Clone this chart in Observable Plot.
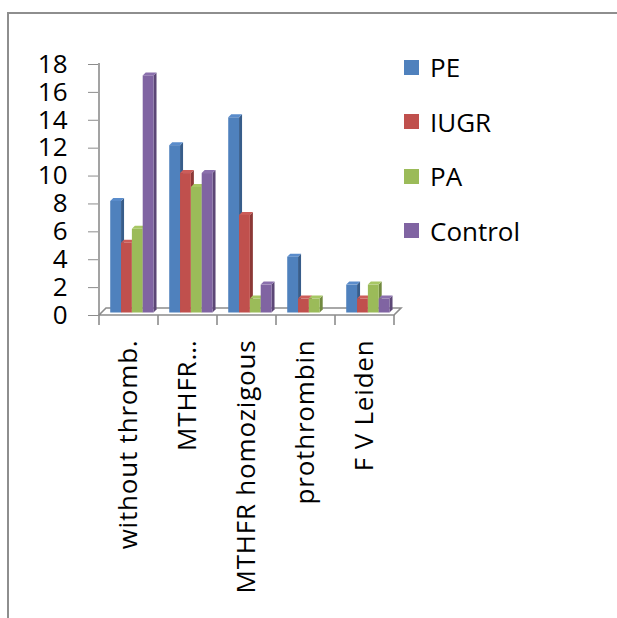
<!DOCTYPE html>
<html><head><meta charset="utf-8">
<script src="https://cdn.jsdelivr.net/npm/d3@7"></script>
<script src="https://cdn.jsdelivr.net/npm/@observablehq/plot@0.6"></script>
<style>
body{margin:0;background:#fff;font-family:"Open Sans",sans-serif;}
#wrap{position:relative;width:617px;height:618px;overflow:hidden;background:#fff;}
#border{position:absolute;left:7px;top:12px;width:800px;height:800px;border-left:2px solid #8e8e8e;border-top:2px solid #8e8e8e;}
#chart{position:absolute;left:0;top:0;}
#legend{position:absolute;left:404px;top:50px;display:flex;flex-direction:column;gap:20.5px;}
.item{display:flex;align-items:center;height:34px;font-size:26px;color:#000;}
.sw{width:15px;height:15px;margin-right:11px;}
</style>
</head><body>
<div id="wrap"><div id="border"></div><div id="chart"></div><div id="legend"></div></div>
<script>
const categories = ["without thromb.", "MTHFR…", "MTHFR homozigous", "prothrombin", "F V Leiden"];
const seriesNames = ["PE", "IUGR", "PA", "Control"];
const PE = [8, 12, 14, 4, 2];
const IUGR = [5, 10, 7, 1, 1];
const PA = [6, 9, 1, 1, 2];
const Control = [17, 10, 2, 0, 1];
const yTicks = [0, 2, 4, 6, 8, 10, 12, 14, 16, 18];
const colors = ["#4f81bd", "#c0504d", "#9bbb59", "#8064a2"];
const sideColors = ["#385d8a", "#8c3836", "#71893f", "#5c4776"];
const topColors = ["#5a8ccb", "#cc5c59", "#a7c764", "#8b70ad"];

const seriesValues = [PE, IUGR, PA, Control];
const rows = categories.flatMap((c, i) => seriesNames.map((s, j) => ({category: c, series: s, si: j, value: seriesValues[j][i]})));
const shown = rows.filter(d => d.value > 0);

const depth = 3, lift = 2.5;
function geom(scales) {
  const bw = scales.x(categories[1]) - scales.x(categories[0]);
  const barW = bw * 10.9 / 59.4;
  const off = bw * 11.3 / 59.4;
  return {bw, barW, off};
}

// floor, axis line and category ticks
function floorMark(index, scales) {
  const {bw} = geom(scales);
  const x0 = scales.x(categories[0]);
  const x1 = scales.x(categories[categories.length - 1]) + bw;
  const y0 = scales.y(0), yTop = scales.y(d3.max(yTicks));
  const g = d3.create("svg:g");
  const fd = 7;
  g.append("path")
    .attr("d", `M${x0},${y0}L${x0 + fd},${y0 - fd}L${x1 + fd},${y0 - fd}L${x1},${y0}Z`)
    .attr("fill", "#fff").attr("stroke", "#8c8c8c").attr("stroke-width", 1.6);
  g.append("line").attr("x1", x0).attr("x2", x0).attr("y1", yTop - 1).attr("y2", y0)
    .attr("stroke", "#8c8c8c").attr("stroke-width", 1.6);
  const edges = categories.map(c => scales.x(c)).concat([x1]);
  for (const e of edges) {
    g.append("line").attr("x1", e).attr("x2", e).attr("y1", y0).attr("y2", y0 + 10)
      .attr("stroke", "#8c8c8c").attr("stroke-width", 1.6);
  }
  return g.node();
}

// 3D bars drawn from the scales
function barsMark(index, scales) {
  const {barW, off} = geom(scales);
  const g = d3.create("svg:g");
  for (const d of shown) {
    const xl = scales.x(d.category) + off + d.si * barW;
    const xr = xl + barW;
    const yt = scales.y(d.value) - lift;
    const yb = scales.y(0) - lift;
    g.append("path")
      .attr("d", `M${xr},${yt}L${xr + depth},${yt - depth}L${xr + depth},${yb - depth}L${xr},${yb}Z`)
      .attr("fill", sideColors[d.si]);
    g.append("path")
      .attr("d", `M${xl},${yt}L${xl + depth},${yt - depth}L${xr + depth},${yt - depth}L${xr},${yt}Z`)
      .attr("fill", topColors[d.si]);
    g.append("rect").attr("x", xl).attr("y", yt).attr("width", barW).attr("height", yb - yt)
      .attr("fill", colors[d.si]);
  }
  return g.node();
}

const plot = Plot.plot({
  width: 617, height: 618,
  marginLeft: 98, marginRight: 222, marginTop: 64, marginBottom: 303,
  style: {fontFamily: "'Open Sans', sans-serif", fontSize: "26px", color: "#000", background: "transparent", overflow: "visible"},
  x: {type: "band", domain: categories, padding: 0, label: null, axis: null},
  y: {domain: [0, 18], label: null, axis: null},
  marks: [
    floorMark,
    Plot.axisY({ticks: yTicks, tickSize: 10, tickPadding: 21, stroke: "#8c8c8c", fill: "#000", label: null, fontSize: 26}),
    Plot.axisX({tickSize: 0, tickRotate: -90, tickPadding: 24, label: null, fontSize: 26, fill: "#000"}),
    barsMark
  ]
});
d3.select(plot).selectAll('g[aria-label="x-axis tick label"] text').style("letter-spacing", "0.8px");
document.getElementById("chart").appendChild(plot);

const legend = document.getElementById("legend");
seriesNames.forEach((s, j) => {
  const it = document.createElement("div");
  it.className = "item";
  it.innerHTML = `<div class="sw" style="background:${colors[j]}"></div><span>${s}</span>`;
  legend.appendChild(it);
});
</script>
</body></html>
